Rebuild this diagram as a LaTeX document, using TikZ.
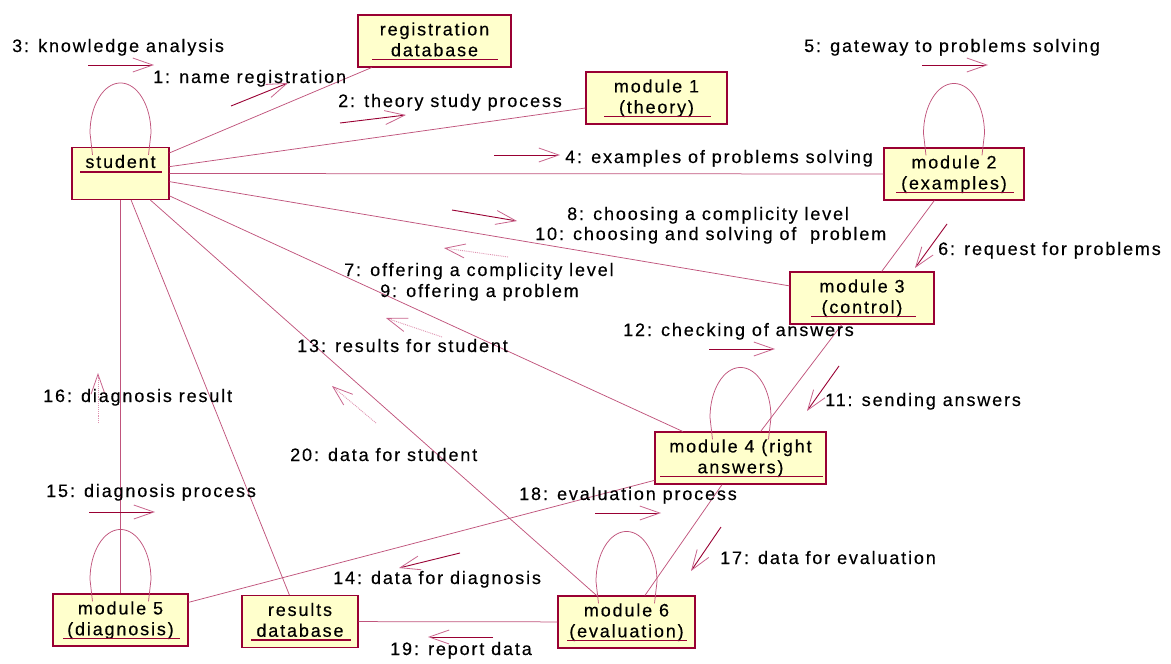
\documentclass[tikz,border=0pt]{standalone}
\usepackage{fontspec}
\setmainfont{Liberation Sans}[LetterSpace=10.3, FakeBold=0.3]
\usetikzlibrary{arrows.meta}

\definecolor{umlred}{HTML}{990033}
\definecolor{umlfill}{HTML}{FFFFCC}
\definecolor{umllink}{RGB}{192,84,124}
\definecolor{umlhead}{RGB}{200,100,140}
\definecolor{umlret}{RGB}{222,145,175}

\tikzset{
  obj/.style={draw=umlred, fill=umlfill, line width=1.1pt, minimum height=52pt, inner sep=0pt},
  objtext/.style={anchor=base, inner sep=0pt, text=black},
  uline/.style={draw=umlred, line width=1.1pt},
  link/.style={draw=umllink, line width=0.75pt},
  msg/.style={draw=umlred, line width=0.9pt,
    -{Straight Barb[length=20pt,width=14pt,line width=0.8pt,color=umlhead]}},
  ret/.style={draw=umlret, line width=0.9pt, densely dotted,
    -{Straight Barb[length=20pt,width=14pt,line width=0.8pt,color=umlhead]}},
  msgtext/.style={anchor=base west, inner sep=0pt, text=black},
}

% object box: name, centre x, centre y, width, line 1, line 2, underline insets (left, right)
\newcommand{\umlobject}[8]{%
  \node[obj, minimum width=#4pt] (#1) at (#2,#3) {};
  \node[objtext] (#1-a) at ([yshift=-21pt]#1.north) {#5};
  \node[objtext] (#1-b) at ([yshift=-41.8pt]#1.north) {#6};
  \draw[uline] ([xshift=#7pt,yshift=-45pt]#1.north west) -- ([xshift=-#8pt,yshift=-45pt]#1.north east);
}

% self link drawn above an object
\newcommand{\selfloop}[1]{%
  \draw[link] ([shift={(-28,8)}]#1.north) -- ([shift={(-30.5,-14)}]#1.north)
    arc[start angle=180, end angle=360, x radius=30.5, y radius=50]
    -- ([shift={(28,8)}]#1.north);
}

\begin{document}
\begin{tikzpicture}[x=1pt, y=-1pt, font=\fontsize{18}{21}\selectfont]
\useasboundingbox (0,0) rectangle (1171,664);

% objects
\node[obj, minimum width=97pt] (student) at (120.5,173.5) {};
\node[objtext] (student-a) at ([yshift=-21pt]student.north) {student};
\draw[uline] ([xshift=9pt,yshift=-25pt]student.north west) -- ([xshift=-8pt,yshift=-25pt]student.north east);

\umlobject{regdb}{434.5}{41}{153}{registration}{database}{15}{14}
\umlobject{mod1}{656.5}{98}{141}{module 1}{(theory)}{19}{17}
\umlobject{mod2}{954}{174}{140}{module 2}{(examples)}{13}{11}
\umlobject{mod3}{862}{298}{144}{module 3}{(control)}{22}{19}
\umlobject{mod4}{740.5}{458}{171}{module 4 (right}{answers)}{6}{4}
\umlobject{mod6}{626.5}{622}{137}{module 6}{(evaluation)}{10}{9}
\umlobject{mod5}{120.5}{620}{135}{module 5}{(diagnosis)}{11}{9}
\umlobject{resdb}{300}{621.5}{116}{results}{database}{10}{8}

% links between objects
\draw[link] (student) -- (regdb);
\draw[link] (student) -- (mod1);
\draw[link] (student) -- (mod2);
\draw[link] (student) -- (mod3);
\draw[link] (student) -- (mod4);
\draw[link] (student) -- (mod6);
\draw[link] (student) -- (mod5);
\draw[link] (student) -- (resdb);
\draw[link] (mod2) -- (mod3);
\draw[link] (mod3) -- (mod4);
\draw[link] (mod4) -- (mod6);
\draw[link] (mod4) -- (mod5);
\draw[link] (mod6) -- (resdb);

% self links
\selfloop{student}
\selfloop{mod2}
\selfloop{mod4}
\selfloop{mod6}
\selfloop{mod5}

% message arrow end points
\coordinate (m1s) at (231,106);  \coordinate (m1e) at (288,83);
\coordinate (m2s) at (340,123);  \coordinate (m2e) at (406,115);
\coordinate (m3s) at (88,65);    \coordinate (m3e) at (154,65);
\coordinate (m4s) at (494,155);  \coordinate (m4e) at (560,155);
\coordinate (m5s) at (922,65);   \coordinate (m5e) at (988,65);
\coordinate (m6s) at (947,224);  \coordinate (m6e) at (915,268);
\coordinate (m7s) at (508,257);  \coordinate (m7e) at (444,248);
\coordinate (m8s) at (452,210);  \coordinate (m8e) at (517,221);
\coordinate (m11s) at (839,366); \coordinate (m11e) at (807,411);
\coordinate (m12s) at (709,349); \coordinate (m12e) at (775,349);
\coordinate (m13s) at (442,337); \coordinate (m13e) at (386,318);
\coordinate (m14s) at (460,553); \coordinate (m14e) at (399,568);
\coordinate (m15s) at (89,512);  \coordinate (m15e) at (155,512);
\coordinate (m16s) at (98,423);  \coordinate (m16e) at (98,373);
\coordinate (m17s) at (721,527); \coordinate (m17e) at (691,571);
\coordinate (m18s) at (595,513); \coordinate (m18e) at (661,513);
\coordinate (m19s) at (493,637); \coordinate (m19e) at (428,637);
\coordinate (m20s) at (376,423); \coordinate (m20e) at (332,386);

% calls
\draw[msg] (m1s) -- (m1e);
\draw[msg] (m2s) -- (m2e);
\draw[msg] (m3s) -- (m3e);
\draw[msg] (m4s) -- (m4e);
\draw[msg] (m5s) -- (m5e);
\draw[msg] (m6s) -- (m6e);
\draw[msg] (m8s) -- (m8e);
\draw[msg] (m11s) -- (m11e);
\draw[msg] (m12s) -- (m12e);
\draw[msg] (m14s) -- (m14e);
\draw[msg] (m15s) -- (m15e);
\draw[msg] (m17s) -- (m17e);
\draw[msg] (m18s) -- (m18e);
\draw[msg] (m19s) -- (m19e);

% returns
\draw[ret] (m7s) -- (m7e);
\draw[ret] (m13s) -- (m13e);
\draw[ret] (m16s) -- (m16e);
\draw[ret] (m20s) -- (m20e);

% message labels
\node[msgtext] (t3) at (12,52) {3: knowledge analysis};
\node[msgtext] (t1) at (153,83) {1: name registration};
\node[msgtext] (t2) at (338,107) {2: theory study process};
\node[msgtext] (t4) at (565,163) {4: examples of problems solving};
\node[msgtext] (t5) at (804,52) {5: gateway to problems solving};
\node[msgtext] (t8) at (567,220) {8: choosing a complicity level};
\node[msgtext] (t10) at (535,240) {10: choosing and solving of~ problem};
\node[msgtext] (t7) at (344,276) {7: offering a complicity level};
\node[msgtext] (t9) at (380,297) {9: offering a problem};
\node[msgtext] (t6) at (938,255) {6: request for problems};
\node[msgtext] (t12) at (623,336) {12: checking of answers};
\node[msgtext] (t11) at (825,406) {11: sending answers};
\node[msgtext] (t13) at (297,352) {13: results for student};
\node[msgtext] (t20) at (290,461) {20: data for student};
\node[msgtext] (t16) at (43,402) {16: diagnosis result};
\node[msgtext] (t15) at (46,497) {15: diagnosis process};
\node[msgtext] (t18) at (519,500) {18: evaluation process};
\node[msgtext] (t14) at (333,584) {14: data for diagnosis};
\node[msgtext] (t17) at (720,564) {17: data for evaluation};
\node[msgtext] (t19) at (390,655) {19: report data};
\end{tikzpicture}
\end{document}
